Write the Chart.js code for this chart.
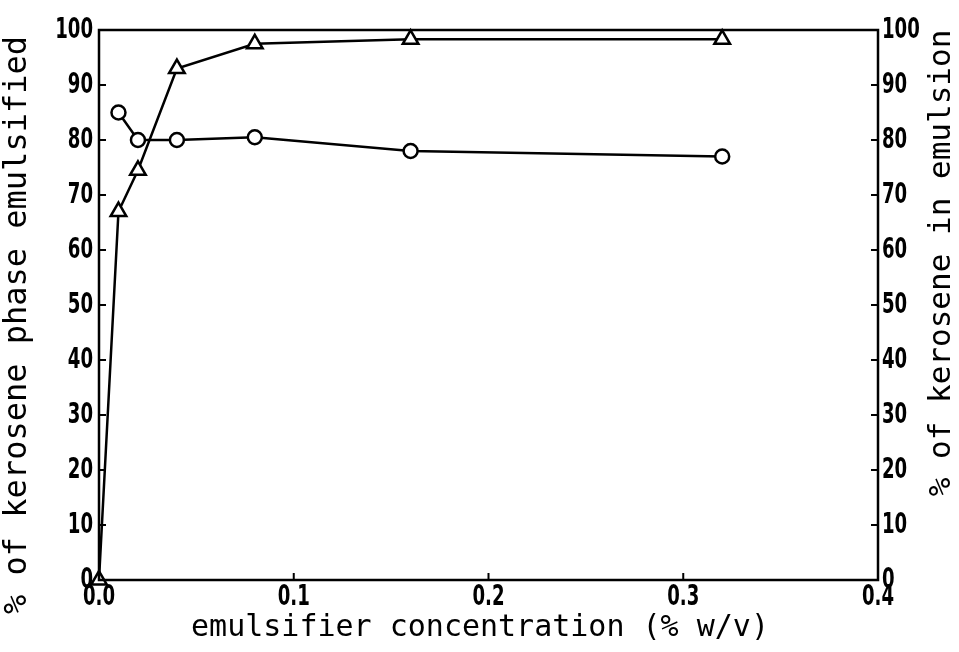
<!DOCTYPE html>
<html>
<head>
<meta charset="utf-8">
<script src="https://cdn.jsdelivr.net/npm/chart.js@4"></script>
<style>
  html, body { margin: 0; padding: 0; background: #fff; }
  #wrap { width: 959px; height: 652px; }
</style>
</head>
<body>
<div id="wrap"><canvas id="chart" width="959" height="652"></canvas></div>
<script>
// emulsifier concentration (% w/v)
var concTriangles = [0, 0.01, 0.02, 0.04, 0.08, 0.16, 0.32];
var pctPhaseEmulsified = [0, 67, 74.5, 93, 97.5, 98.3, 98.3];

var concCircles = [0.01, 0.02, 0.04, 0.08, 0.16, 0.32];
var pctKeroseneInEmulsion = [85, 80, 80, 80.5, 78, 77];

var xTickLabels = ['0.0', '0.1', '0.2', '0.3', '0.4'];
var yTickValues = [0, 10, 20, 30, 40, 50, 60, 70, 80, 90, 100];

var xTitle = 'emulsifier concentration (% w/v)';
var yLeftTitle = '% of kerosene phase emulsified';
var yRightTitle = '% of kerosene in emulsion';

function toPoints(xs, ys) {
  return xs.map(function (x, i) { return { x: x, y: ys[i] }; });
}

var TICK_FONT = 'bold 28px "DejaVu Sans Condensed", "DejaVu Sans", sans-serif';
var TICK_SQUEEZE = 0.72;

// draw a label squeezed horizontally (narrow typewriter-ish digits)
function narrowText(ctx, text, x, y, align) {
  ctx.save();
  ctx.translate(x, y);
  ctx.scale(TICK_SQUEEZE, 1);
  ctx.textAlign = align;
  ctx.fillText(text, 0, 0);
  ctx.restore();
}

// frame, inward ticks, tick labels and axis titles
var framePlugin = {
  id: 'frame',
  beforeDraw: function (chart) {
    var ctx = chart.ctx;
    ctx.save();
    ctx.fillStyle = '#fff';
    ctx.fillRect(0, 0, chart.width, chart.height);
    ctx.restore();
  },
  afterDraw: function (chart) {
    var ctx = chart.ctx, a = chart.chartArea;
    var sx = chart.scales.x, sy = chart.scales.y, sy2 = chart.scales.y2;
    ctx.save();
    ctx.strokeStyle = '#000';
    ctx.lineWidth = 2.5;
    ctx.strokeRect(a.left, a.top, a.right - a.left, a.bottom - a.top);

    ctx.lineWidth = 2;
    ctx.beginPath();
    yTickValues.forEach(function (v) {
      var py = sy.getPixelForValue(v);
      ctx.moveTo(a.left, py); ctx.lineTo(a.left + 7, py);
      var py2 = sy2.getPixelForValue(v);
      ctx.moveTo(a.right, py2); ctx.lineTo(a.right - 7, py2);
    });
    sx.ticks.forEach(function (t) {
      var px = sx.getPixelForValue(t.value);
      ctx.moveTo(px, a.bottom); ctx.lineTo(px, a.bottom - 7);
    });
    ctx.stroke();

    ctx.fillStyle = '#000';
    ctx.font = TICK_FONT;
    ctx.textBaseline = 'middle';
    sy.ticks.forEach(function (t) {
      narrowText(ctx, String(t.value), a.left - 6, sy.getPixelForValue(t.value) + 1, 'right');
    });
    sy2.ticks.forEach(function (t) {
      narrowText(ctx, String(t.value), a.right + 4, sy2.getPixelForValue(t.value) + 1, 'left');
    });
    sx.ticks.forEach(function (t, i) {
      narrowText(ctx, xTickLabels[i], sx.getPixelForValue(t.value), a.bottom + 18, 'center');
    });

    ctx.textAlign = 'center';
    ctx.font = '30px "DejaVu Sans Mono", monospace';
    ctx.fillText(xTitle, 480, 628);

    ctx.font = '32px "DejaVu Sans Mono", monospace';
    ctx.translate(18, 325);
    ctx.rotate(-Math.PI / 2);
    ctx.fillText(yLeftTitle, 0, 0);
    ctx.setTransform(1, 0, 0, 1, 0, 0);
    ctx.font = '31px "DejaVu Sans Mono", monospace';
    ctx.translate(942, 263);
    ctx.rotate(-Math.PI / 2);
    ctx.fillText(yRightTitle, 0, 0);
    ctx.restore();
  }
};

function fixWidth(w) {
  return function (scale) {
    scale.width = w;
    scale.paddingTop = 0;
    scale.paddingBottom = 0;
  };
}

new Chart(document.getElementById('chart'), {
  type: 'scatter',
  data: {
    datasets: [
      {
        label: yLeftTitle,
        data: toPoints(concTriangles, pctPhaseEmulsified),
        yAxisID: 'y',
        showLine: true,
        clip: false,
        borderColor: '#000',
        borderWidth: 2.5,
        pointStyle: 'triangle',
        pointRadius: 9,
        pointBorderWidth: 2.5,
        pointBackgroundColor: '#fff',
        pointBorderColor: '#000'
      },
      {
        label: yRightTitle,
        data: toPoints(concCircles, pctKeroseneInEmulsion),
        yAxisID: 'y2',
        showLine: true,
        clip: false,
        borderColor: '#000',
        borderWidth: 2.5,
        pointStyle: 'circle',
        pointRadius: 7,
        pointBorderWidth: 2.5,
        pointBackgroundColor: '#fff',
        pointBorderColor: '#000'
      }
    ]
  },
  options: {
    responsive: false,
    animation: false,
    layout: { padding: { top: 30, left: 0, right: 0, bottom: 0 } },
    plugins: { legend: { display: false }, tooltip: { enabled: false } },
    scales: {
      x: {
        type: 'linear', min: 0, max: 0.4,
        grid: { display: false, drawTicks: false },
        border: { display: false },
        ticks: { stepSize: 0.1, display: false },
        afterFit: function (scale) {
          scale.height = 72;
          scale.paddingLeft = 0;
          scale.paddingRight = 0;
        }
      },
      y: {
        type: 'linear', position: 'left', min: 0, max: 100,
        grid: { display: false, drawTicks: false },
        border: { display: false },
        ticks: { stepSize: 10, display: false },
        afterFit: fixWidth(99)
      },
      y2: {
        type: 'linear', position: 'right', min: 0, max: 100,
        grid: { display: false, drawTicks: false },
        border: { display: false },
        ticks: { stepSize: 10, display: false },
        afterFit: fixWidth(81)
      }
    }
  },
  plugins: [framePlugin]
});
</script>
</body>
</html>
